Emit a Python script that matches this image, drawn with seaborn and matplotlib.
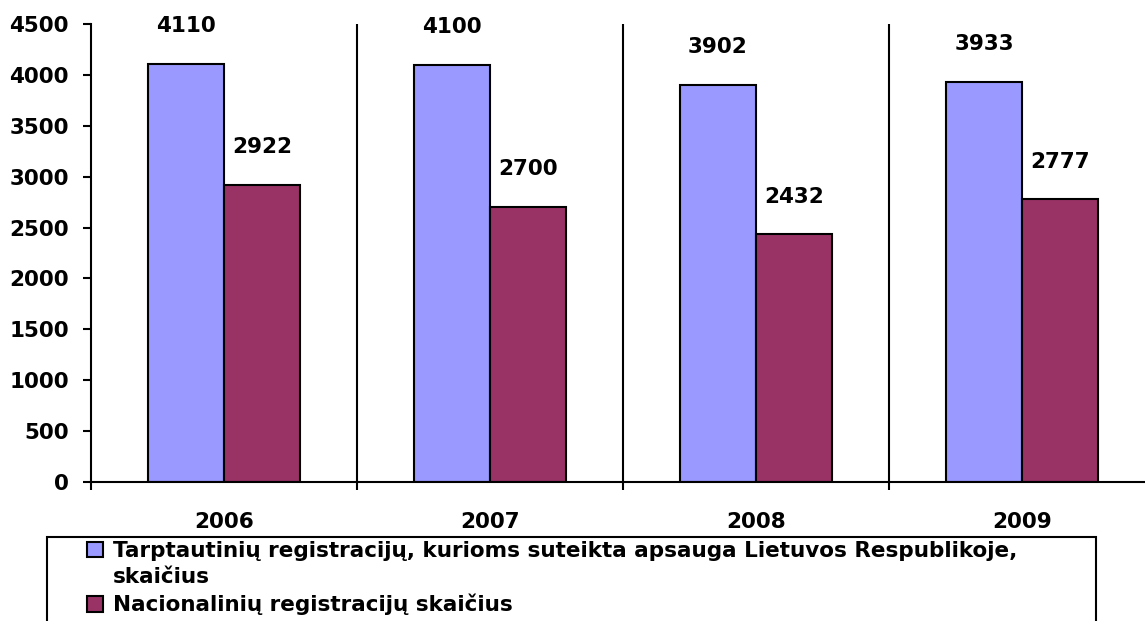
import matplotlib
matplotlib.use("Agg")
import matplotlib.pyplot as plt
import seaborn as sns
import pandas as pd
from matplotlib.patches import Patch, Rectangle

years = ["2006", "2007", "2008", "2009"]
series_names = [
    "Tarptautinių registracijų, kurioms suteikta apsauga Lietuvos Respublikoje, skaičius",
    "Nacionalinių registracijų skaičius",
]
international = [4110, 4100, 3902, 3933]
national = [2922, 2700, 2432, 2777]
colors = ["#9999FF", "#993366"]
yticks = [0, 500, 1000, 1500, 2000, 2500, 3000, 3500, 4000, 4500]

df = pd.DataFrame({
    "year": years * 2,
    "value": international + national,
    "series": [series_names[0]] * 4 + [series_names[1]] * 4,
})

sns.set_style("ticks")
plt.rcParams["font.family"] = ["DejaVu Sans"]
plt.rcParams["font.weight"] = "bold"
plt.rcParams["text.color"] = "black"
plt.rcParams["xtick.color"] = "black"
plt.rcParams["ytick.color"] = "black"
plt.rcParams["xtick.labelcolor"] = "black"
plt.rcParams["ytick.labelcolor"] = "black"

FS = 15.5
W, H = 1145, 621
fig = plt.figure(figsize=(W / 100, H / 100), dpi=100)
ax = fig.add_axes([91 / W, 1 - 482 / H, 1064 / W, 458 / H])

sns.barplot(data=df, x="year", y="value", hue="series", palette=colors,
            width=0.572, edgecolor="black", linewidth=1.5, ax=ax,
            legend=False, saturation=1)

for cont in ax.containers:
    ax.bar_label(cont, padding=20, fontsize=FS, fontweight="bold", color="black")

ax.set_xlim(-0.5, 3.5)
ax.set_ylim(0, 4500)
ax.set_yticks(yticks)
ax.set_yticklabels([str(v) for v in yticks], fontsize=FS, fontweight="bold")

ax.set_xticks([-0.5, 0.5, 1.5, 2.5, 3.5])
ax.set_xticklabels([])
ax.set_xticks(range(len(years)), minor=True)
ax.set_xticklabels(years, minor=True, fontsize=FS, fontweight="bold")
ax.tick_params(axis="x", which="minor", length=0, pad=21.5)
ax.tick_params(axis="x", which="major", length=6, width=1.5, color="black")
ax.tick_params(axis="y", length=6, width=1.5, color="black", pad=10)

for b in [0.5, 1.5, 2.5]:
    ax.axvline(b, color="black", lw=1.5, zorder=0)

ax.set_xlabel("")
ax.set_ylabel("")
for s in ["top", "right"]:
    ax.spines[s].set_visible(False)
for s in ["left", "bottom"]:
    ax.spines[s].set_linewidth(1.5)
    ax.spines[s].set_color("black")

handles = [
    Patch(facecolor=colors[0], edgecolor="black", linewidth=1.5),
    Patch(facecolor="none", edgecolor="none"),
    Patch(facecolor=colors[1], edgecolor="black", linewidth=1.5),
]
labels = [
    "Tarptautinių registracijų, kurioms suteikta apsauga Lietuvos Respublikoje,",
    "skaičius",
    series_names[1],
]
fig.legend(handles=handles, labels=labels, loc="upper left",
           bbox_to_anchor=(87 / W, 1 - 541 / H), frameon=False,
           prop={"size": FS, "weight": "bold"}, handlelength=0.72,
           handleheight=0.72, handletextpad=0.5, labelspacing=0.3,
           borderaxespad=0, borderpad=0)

fig.patches.append(Rectangle((47 / W, -0.05), (1096 - 47) / W, (1 - 537 / H) + 0.05,
                             transform=fig.transFigure, fill=False,
                             edgecolor="black", linewidth=1.5))

fig.savefig("out.png", dpi=100)
